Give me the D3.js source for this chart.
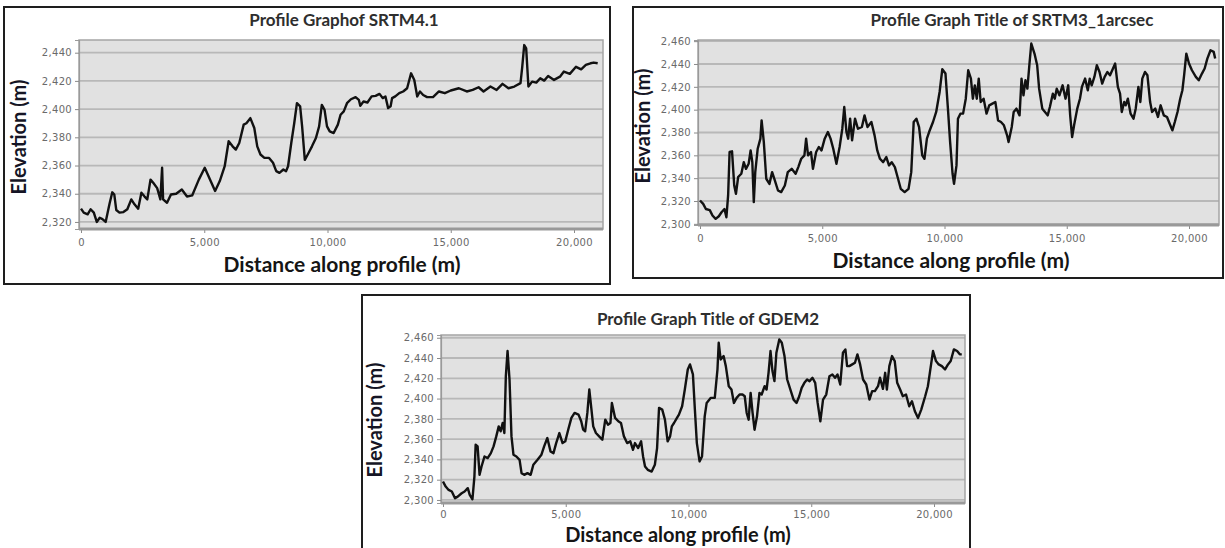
<!DOCTYPE html>
<html>
<head>
<meta charset="utf-8">
<script src="https://cdn.jsdelivr.net/npm/d3@7"></script>
<style>
  body { margin: 0; background: #fff; }
  svg { display: block; }
</style>
</head>
<body>
<svg id="chart" width="1225" height="548"></svg>
<script>
// ---- Elevation profiles: distance along profile (m) and elevation (m) ----
const distSRTM41 = [0,110,270,390,520,640,760,870,1000,1080,1160,1270,1350,1430,1560,1720,1880,2040,2170,2320,2450,2580,2690,2820,2930,3090,3220,3290,3330,3490,3650,3860,4090,4300,4510,4780,5020,5260,5440,5630,5830,5990,6150,6280,6420,6600,6710,6870,7030,7150,7280,7440,7630,7790,7920,8050,8210,8320,8400,8530,8650,8760,8890,8970,9080,9210,9370,9530,9660,9770,9880,9980,10090,10250,10420,10530,10660,10790,10950,11140,11270,11330,11460,11620,11790,11950,12110,12240,12350,12460,12560,12620,12750,12910,13070,13230,13390,13520,13640,13750,13880,14040,14280,14520,14760,15000,15330,15650,15890,16130,16330,16610,16860,17100,17340,17580,17830,17900,17980,18060,18150,18300,18470,18630,18790,18950,19190,19430,19590,19830,20080,20290,20480,20670,20800,20960];
const elevSRTM41 = [2329.4,2326.6,2325.4,2329,2326.6,2320,2323,2322,2320,2326.6,2333,2341,2339.5,2328.5,2326.6,2327,2329,2336,2332.5,2329.4,2340.7,2338,2336,2350,2347.8,2344,2336,2358.4,2336,2333.6,2339.5,2340,2343,2338,2338.8,2350,2358.4,2349,2342,2349,2359.5,2377.2,2373.6,2371.3,2376,2389,2390,2393.6,2386.6,2373.6,2367.8,2365.4,2365.4,2362,2356,2354.8,2357.2,2356,2359.5,2376,2390,2404.2,2402,2387.8,2364,2368.2,2373.6,2379.5,2387.8,2403,2399.5,2387.8,2384.2,2383,2389,2396,2398.4,2404.2,2407,2408.5,2406.6,2402.4,2405.4,2404.7,2409,2409.4,2410.8,2407.8,2409,2400.7,2402,2407.8,2409,2411.3,2412.5,2414.8,2425.4,2420.7,2409,2412.5,2410,2408.5,2408.5,2412.5,2411.3,2413.2,2414.8,2412.5,2413.6,2415.5,2412.5,2416,2413.6,2417.9,2414.8,2416,2418.4,2430,2445.4,2443,2416,2419.5,2418.8,2421.9,2420.2,2423.5,2420.7,2423,2426.6,2425,2430,2428.2,2431.3,2432.5,2433,2432.5];

const distSRTM3 = [0,130,240,400,510,640,770,880,1000,1080,1150,1210,1310,1400,1470,1560,1690,1790,1880,1990,2070,2140,2200,2260,2360,2470,2520,2610,2710,2840,2950,3060,3190,3320,3470,3590,3750,3910,4020,4140,4270,4340,4420,4540,4620,4750,4860,4970,5100,5230,5340,5450,5580,5710,5820,5900,5990,6060,6140,6220,6340,6460,6620,6730,6850,7010,7140,7250,7360,7490,7620,7730,7840,7970,8100,8210,8370,8530,8640,8740,8850,8960,9090,9180,9280,9370,9530,9660,9800,9910,10040,10140,10230,10330,10390,10490,10550,10650,10760,10870,10970,11080,11160,11240,11320,11400,11480,11600,11720,11830,11960,12080,12190,12310,12430,12560,12620,12750,12830,12940,13070,13150,13230,13310,13390,13470,13550,13680,13790,13870,14000,14110,14220,14310,14430,14510,14590,14700,14830,14950,15060,15140,15220,15300,15430,15540,15620,15750,15860,15940,16020,16130,16230,16340,16450,16550,16660,16770,16860,16980,17090,17180,17250,17350,17410,17500,17610,17730,17820,17930,18010,18090,18200,18300,18410,18490,18620,18730,18840,18970,19100,19210,19320,19420,19530,19640,19730,19800,19890,20000,20120,20280,20400,20530,20640,20750,20880,21010,21070];
const elevSRTM3 = [2320.5,2317.5,2313,2312,2307.3,2304.4,2306.7,2310.2,2313,2305.8,2324.9,2362.9,2363.5,2333.6,2326.3,2341,2343.9,2354,2348.2,2352.6,2364.3,2354,2319,2345.3,2365.8,2374.6,2390.6,2371.6,2339.5,2335,2345.3,2338,2329.2,2327.8,2333.6,2345.3,2348.2,2343.9,2349.7,2357,2360,2374.6,2360,2362.9,2348.2,2362.9,2367.3,2364.3,2374.6,2380.4,2374.6,2365.8,2352.6,2367.3,2383.3,2402.3,2380.4,2374.6,2392.1,2373.1,2392.1,2383.3,2384.8,2395,2384.8,2389.2,2377.5,2364.3,2357,2354,2358.5,2351.2,2354,2349.7,2339.5,2330.7,2327.8,2330.7,2345.3,2389.2,2392.1,2384.8,2360,2357,2374.6,2380.4,2389.2,2398,2415.5,2435.4,2431.6,2400.9,2371.6,2343.9,2335,2351.2,2392.1,2396.5,2396.5,2409.6,2434.5,2427.2,2409.6,2421.3,2409.6,2427.2,2406.7,2409.6,2396.5,2403.8,2405.3,2406.7,2390.6,2389.2,2386.3,2377.5,2371.6,2384.8,2398,2400.9,2395,2427.2,2412.6,2425.7,2418.4,2438.9,2457.9,2449.1,2438.9,2418.4,2400.9,2398,2395,2402.3,2414,2409.6,2418.4,2412.6,2421.3,2409.6,2421.3,2395,2376,2386.3,2400.9,2409.6,2419.9,2427.2,2417,2427.2,2421.3,2428.7,2438.9,2433,2422.8,2428.7,2433,2430.1,2434.5,2440.4,2419.9,2414,2398,2406.7,2403.8,2409.6,2396.5,2392.1,2400.9,2419.9,2406.7,2427.2,2433,2430.1,2406.7,2398,2400.9,2393.6,2403.8,2395,2393.6,2387.7,2381.9,2389.2,2398,2409.6,2417,2430.1,2449.1,2440.4,2434.5,2428.7,2425.7,2431.6,2436,2444.7,2452,2450.6,2444.7];

const distGDEM2 = [0,110,230,360,490,600,760,880,1010,1090,1200,1280,1330,1410,1490,1570,1690,1820,1950,2060,2170,2270,2350,2430,2500,2560,2630,2710,2790,2870,2990,3120,3200,3310,3440,3570,3680,3850,4010,4120,4250,4380,4500,4610,4740,4870,4980,5100,5230,5360,5520,5630,5710,5790,5880,5960,6040,6120,6230,6360,6490,6610,6720,6820,6880,7010,7140,7250,7370,7500,7630,7740,7820,7950,8070,8150,8230,8340,8500,8630,8720,8800,8930,9040,9150,9250,9320,9410,9530,9610,9740,9850,9970,10060,10180,10260,10340,10450,10550,10660,10740,10910,11070,11180,11230,11310,11430,11520,11640,11750,11850,11960,12080,12200,12290,12370,12450,12530,12610,12690,12790,12890,12980,13100,13180,13260,13340,13420,13500,13580,13700,13800,13910,14020,14150,14280,14400,14510,14610,14720,14830,14930,15050,15160,15260,15370,15480,15610,15740,15860,15970,16070,16180,16290,16390,16460,16550,16670,16780,16880,16990,17110,17240,17370,17480,17590,17720,17800,17920,18010,18080,18180,18290,18400,18500,18620,18730,18860,18990,19100,19220,19350,19480,19640,19750,19830,19960,20080,20190,20320,20450,20570,20680,20810,20940,21050,21130];
const elevGDEM2 = [2318.2,2313.2,2309.9,2308.3,2301.7,2303.3,2306.6,2308.3,2311.6,2305,2300.7,2323.1,2354.5,2352.8,2324.8,2333,2342.9,2341.3,2346.2,2352.8,2362.7,2372.6,2367.7,2375.9,2366,2422.1,2446.9,2418.8,2362.7,2344.6,2342.9,2339.6,2326.4,2324.8,2326.4,2324.8,2334.7,2339.6,2344.6,2352.8,2361.1,2347.9,2346.2,2356.1,2366,2356.1,2357.8,2369.3,2380.9,2385.8,2384.2,2377.6,2369.3,2367.7,2385.8,2408.9,2390.8,2372.6,2366,2362.7,2359.4,2379.2,2374.3,2375.9,2395.7,2380.9,2377.6,2375.9,2362.7,2356.1,2357.8,2349.5,2356.1,2351.2,2357.8,2342.9,2333,2329.7,2328,2334.7,2351.2,2390.8,2389.1,2379.2,2357.8,2362.7,2372.6,2375.9,2380.9,2384.2,2392.4,2408.9,2428.7,2433.7,2423.8,2389.1,2356.1,2338,2342.9,2382.5,2395.7,2400.7,2400.7,2428.7,2455.1,2438.6,2441.9,2432,2412.2,2408.9,2395.7,2400.7,2404,2404,2402.3,2385.8,2379.2,2405.6,2385.8,2369.3,2382.5,2405.6,2404,2412.2,2408.9,2425.4,2446.9,2427.1,2417.2,2445.2,2458.4,2455.1,2441.9,2418.8,2408.9,2399,2395.7,2402.3,2410.6,2415.5,2418.8,2417.2,2420.5,2415.5,2395.7,2377.6,2399,2404,2422.1,2423.8,2420.5,2423.8,2413.9,2445.2,2448.5,2432,2432,2433.7,2435.3,2443.6,2433.7,2418.8,2413.9,2399,2407.3,2407.3,2412.2,2420.5,2409.6,2425.4,2408.9,2432,2441.9,2437,2415.5,2408.9,2402.3,2404,2392.4,2397.4,2387.5,2380.9,2389.1,2402.3,2412.2,2425.4,2446.9,2437,2433.7,2432,2428.7,2433.7,2437,2448.5,2446.9,2443.6,2443.6];

// ---- Axis ticks and labels ----
const xTickValues = [0, 5000, 10000, 15000, 20000];
const yTicksSRTM41 = [2320, 2340, 2360, 2380, 2400, 2420, 2440];
const yTicksWide = [2300, 2320, 2340, 2360, 2380, 2400, 2420, 2440, 2460];
const panelTitles = ["Profile Graphof SRTM4.1", "Profile Graph Title of SRTM3_1arcsec", "Profile Graph Title of GDEM2"];
const xAxisTitle = "Distance along profile (m)";
const yAxisTitle = "Elevation (m)";

// ---- Panel layout (pixel geometry only) ----
const panels = [
  { frame: [4, 7, 606, 277], plot: [79, 40, 603, 229], xDom: [-81, 21176], yDom: [2315, 2449],
    dist: distSRTM41, elev: elevSRTM41, yTicks: yTicksSRTM41, title: panelTitles[0],
    titleX: 344, titleY: 26, xtX: 342, xtY: 272, xtSize: 21, xPad: 6, ytX: 26, ytY: 137 },
  { frame: [633, 7, 590, 271], plot: [698, 40, 1219, 225], xDom: [-82, 21227], yDom: [2299, 2461],
    dist: distSRTM3, elev: elevSRTM3, yTicks: yTicksWide, title: panelTitles[1],
    titleX: 1012, titleY: 26, xtX: 951, xtY: 268, xtSize: 21, xPad: 6, ytX: 650, ytY: 126 },
  { frame: [362, 295, 608, 280], plot: [441, 335, 965, 503], xDom: [-81, 21262], yDom: [2297, 2462.7],
    dist: distGDEM2, elev: elevGDEM2, yTicks: yTicksWide, title: panelTitles[2],
    titleX: 708, titleY: 325, xtX: 678, xtY: 542, xtSize: 20, xPad: 4, ytX: 382, ytY: 420 }
];

const svg = d3.select("#chart");
const fmt = d3.format(",");

panels.forEach(p => {
  const g = svg.append("g");
  const [fx, fy, fw, fh] = p.frame;
  const [pl, pt, pr, pb] = p.plot;

  // outer frame
  g.append("rect").attr("x", fx).attr("y", fy).attr("width", fw).attr("height", fh)
    .attr("fill", "#fff").attr("stroke", "#1e1e1e").attr("stroke-width", 2);

  const x = d3.scaleLinear().domain(p.xDom).range([pl, pr]);
  const y = d3.scaleLinear().domain(p.yDom).range([pb, pt]);

  // plot background
  g.append("rect").attr("x", pl).attr("y", pt).attr("width", pr - pl).attr("height", pb - pt)
    .attr("fill", "#e1e1e1");

  // horizontal gridlines
  g.append("g").selectAll("line").data(p.yTicks).join("line")
    .attr("x1", pl).attr("x2", pr)
    .attr("y1", d => y(d)).attr("y2", d => y(d))
    .attr("stroke", "#b8b8b8").attr("stroke-width", 1.8);

  // plot border
  g.append("rect").attr("x", pl).attr("y", pt).attr("width", pr - pl).attr("height", pb - pt)
    .attr("fill", "none").attr("stroke", "#a5a5a5").attr("stroke-width", 1.5);

  // y axis
  const yAxis = d3.axisLeft(y).tickValues(p.yTicks).tickFormat(fmt).tickSize(4).tickPadding(3);
  const ya = g.append("g").attr("transform", `translate(${pl},0)`).call(yAxis);
  ya.select(".domain").attr("stroke", "#9a9a9a").attr("stroke-width", 1.2);
  ya.selectAll(".tick line").attr("stroke", "#8a8a8a");
  ya.selectAll(".tick text").attr("fill", "#6a6a6a").style("font-family", "DejaVu Sans")
    .style("font-size", "10px").attr("letter-spacing", "0.3px");

  // x axis
  const xAxis = d3.axisBottom(x).tickValues(xTickValues).tickFormat(fmt).tickSize(4).tickPadding(p.xPad);
  const xa = g.append("g").attr("transform", `translate(0,${pb})`).call(xAxis);
  xa.select(".domain").remove();
  xa.selectAll(".tick line").attr("stroke", "#8a8a8a");
  xa.selectAll(".tick text").attr("fill", "#6a6a6a").style("font-family", "DejaVu Sans")
    .style("font-size", "10px").attr("letter-spacing", "0.3px");
  g.append("line").attr("x1", pl).attr("x2", pr).attr("y1", pb).attr("y2", pb)
    .attr("stroke", "#999").attr("stroke-width", 3);

  // profile line
  const pts = p.dist.map((d, i) => [d, p.elev[i]]);
  g.append("path").datum(pts)
    .attr("d", d3.line().x(d => x(d[0])).y(d => y(d[1])))
    .attr("fill", "none").attr("stroke", "#111").attr("stroke-width", 2.4)
    .attr("stroke-linejoin", "round");

  // titles
  g.append("text").attr("x", p.titleX).attr("y", p.titleY).attr("text-anchor", "middle")
    .style("font-family", "Lato").style("font-weight", "bold").style("font-size", "17px")
    .attr("fill", "#2e2e2e").text(p.title);
  g.append("text").attr("x", p.xtX).attr("y", p.xtY).attr("text-anchor", "middle")
    .style("font-family", "Lato").style("font-weight", "bold").style("font-size", p.xtSize + "px")
    .attr("fill", "#151515").text(xAxisTitle);
  g.append("text").attr("transform", `translate(${p.ytX},${p.ytY}) rotate(-90)`)
    .attr("text-anchor", "middle")
    .style("font-family", "Lato").style("font-weight", "bold").style("font-size", "20px")
    .attr("fill", "#151525").text(yAxisTitle);
});
</script>
</body>
</html>
